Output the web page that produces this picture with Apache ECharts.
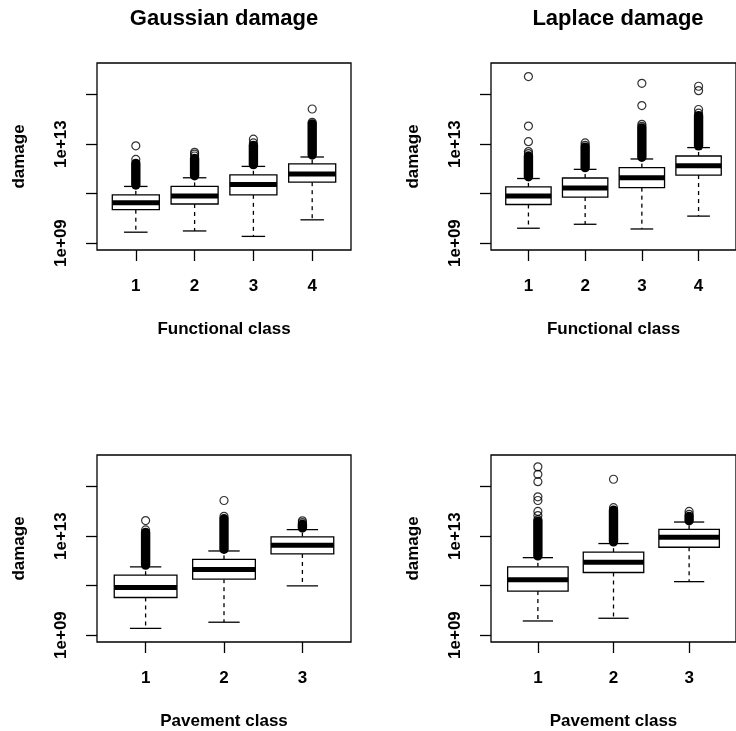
<!DOCTYPE html>
<html>
<head>
<meta charset="utf-8">
<script src="https://cdn.jsdelivr.net/npm/echarts@6.0.0/dist/echarts.min.js"></script>
<style>
html,body{margin:0;padding:0;background:#fff;}
#chart{width:736px;height:731px;}
</style>
</head>
<body>
<div id="chart"></div>
<script>
// ---- Data (log10 of damage) ----
const panelTitles = ['Gaussian damage', 'Laplace damage'];
const functionalClasses = [1, 2, 3, 4];
const pavementClasses = [1, 2, 3];
const yTickValues = [9, 11, 13, 15];
const yLabelValues = [9, 13];

// box stats: [lowerWhisker, Q1, median, Q3, upperWhisker]
const gaussFuncStats = [[9.44, 10.35, 10.63, 10.95, 11.29], [9.49, 10.58, 10.90, 11.29, 11.64], [9.27, 10.95, 11.37, 11.76, 12.10], [9.94, 11.46, 11.79, 12.20, 12.48]];
const laplFuncStats  = [[9.60, 10.56, 10.90, 11.27, 11.61], [9.76, 10.86, 11.23, 11.63, 11.98], [9.57, 11.24, 11.64, 12.05, 12.40], [10.09, 11.75, 12.13, 12.52, 12.86]];
const gaussPaveStats = [[9.27, 10.52, 10.92, 11.42, 11.76], [9.52, 11.26, 11.65, 12.06, 12.40], [10.99, 12.28, 12.63, 12.97, 13.26]];
const laplPaveStats  = [[9.57, 10.78, 11.24, 11.76, 12.13], [9.68, 11.53, 11.94, 12.35, 12.70], [11.16, 12.55, 12.95, 13.27, 13.57]];

// densely packed outliers: [lowest, highest] per class
const gaussFuncDense = [[11.35, 12.22], [11.72, 12.42], [12.17, 12.95], [12.56, 13.82]];
const laplFuncDense  = [[11.68, 12.52], [12.05, 12.88], [12.47, 13.65], [12.93, 14.15]];
const gaussPaveDense = [[11.83, 13.15], [12.47, 13.70], [13.33, 13.48]];
const laplPaveDense  = [[12.20, 13.60], [12.77, 14.05], [13.62, 13.80]];

// individual outliers per class
const gaussFuncOut = [[12.38, 12.93], [12.52, 12.60, 12.67], [13.05, 13.20], [13.88, 14.42]];
const laplFuncOut  = [[12.62, 12.70, 13.10, 13.73, 15.73], [12.95, 13.05], [13.72, 13.80, 14.56, 15.46], [14.25, 14.40, 15.16, 15.34]];
const gaussPaveOut = [[13.25, 13.63], [13.80, 14.44], [13.55, 13.62]];
const laplPaveOut  = [[13.67, 13.83, 14.00, 14.44, 14.59, 15.20, 15.50, 15.80], [14.15, 15.30], [13.88, 14.00]];

// ---- Chart ----
const FONT = '"Liberation Sans", Arial, Helvetica, sans-serif';
const AX = 17, TT = 22;

const panels = [
  {grid: {left: 97, top: 63}, classes: functionalClasses, stats: gaussFuncStats, dense: gaussFuncDense, out: gaussFuncOut, xName: 'Functional class'},
  {grid: {left: 491, top: 63}, classes: functionalClasses, stats: laplFuncStats, dense: laplFuncDense, out: laplFuncOut, xName: 'Functional class'},
  {grid: {left: 97, top: 455}, classes: pavementClasses, stats: gaussPaveStats, dense: gaussPaveDense, out: gaussPaveOut, xName: 'Pavement class'},
  {grid: {left: 491, top: 455}, classes: pavementClasses, stats: laplPaveStats, dense: laplPaveDense, out: laplPaveOut, xName: 'Pavement class'}
];

function renderBox(params, api) {
  const x = api.value(0);
  const lo = api.value(1), q1 = api.value(2), md = api.value(3), q3 = api.value(4), hi = api.value(5);
  const half = api.size([0.4, 0])[0];
  const staple = half / 2;
  const pm = api.coord([x, md]);
  const cx = pm[0];
  const yLo = api.coord([x, lo])[1], yQ1 = api.coord([x, q1])[1], yQ3 = api.coord([x, q3])[1], yHi = api.coord([x, hi])[1];
  const solid = {stroke: '#000', lineWidth: 1.3};
  const dashed = {stroke: '#000', lineWidth: 1.3, lineDash: [4, 4]};
  return {type: 'group', children: [
    {type: 'line', shape: {x1: cx, y1: yQ1, x2: cx, y2: yLo}, style: dashed},
    {type: 'line', shape: {x1: cx, y1: yQ3, x2: cx, y2: yHi}, style: dashed},
    {type: 'line', shape: {x1: cx - staple, y1: yLo, x2: cx + staple, y2: yLo}, style: solid},
    {type: 'line', shape: {x1: cx - staple, y1: yHi, x2: cx + staple, y2: yHi}, style: solid},
    {type: 'rect', shape: {x: cx - half, y: yQ3, width: 2 * half, height: yQ1 - yQ3}, style: {fill: '#fff', stroke: '#000', lineWidth: 1.3}},
    {type: 'line', shape: {x1: cx - half, y1: pm[1], x2: cx + half, y2: pm[1]}, style: {stroke: '#000', lineWidth: 5}}
  ]};
}

function renderDense(params, api) {
  const x = api.value(0);
  const pTop = api.coord([x, api.value(2)]);
  const pBot = api.coord([x, api.value(1)]);
  const r = 4.7;
  return {type: 'rect', shape: {x: pTop[0] - r, y: pTop[1] - r, width: 2 * r, height: pBot[1] - pTop[1] + 2 * r, r: r}, style: {fill: '#000'}};
}

const grids = [], xAxes = [], yAxes = [], series = [];
panels.forEach((p, i) => {
  const n = p.classes.length;
  const ext = 0.04 * n;
  grids.push({left: p.grid.left, top: p.grid.top, width: 254, height: 187, show: true, borderColor: '#000', borderWidth: 1.3, backgroundColor: 'transparent', containLabel: false});
  xAxes.push({
    gridIndex: i, type: 'value', min: 0.5 - ext, max: n + 0.5 + ext,
    axisLine: {show: false}, splitLine: {show: false},
    axisTick: {show: true, customValues: p.classes, length: 11, lineStyle: {color: '#000', width: 1.3}},
    axisLabel: {customValues: p.classes, color: '#000', fontWeight: 'bold', fontSize: AX, fontFamily: FONT, margin: 28},
    name: p.xName, nameLocation: 'middle', nameGap: 71,
    nameTextStyle: {color: '#000', fontWeight: 'bold', fontSize: AX, fontFamily: FONT}
  });
  yAxes.push({
    gridIndex: i, type: 'value', min: 8.72, max: 16.28,
    axisLine: {show: false}, splitLine: {show: false},
    axisTick: {show: true, customValues: yTickValues, length: 11, lineStyle: {color: '#000', width: 1.3}},
    axisLabel: {customValues: yLabelValues, rotate: 90, color: '#000', fontWeight: 'bold', fontSize: AX, fontFamily: FONT, margin: 27,
      formatter: v => '1e+' + String(Math.round(v)).padStart(2, '0')},
    name: 'damage', nameLocation: 'middle', nameGap: 69, nameRotate: 90,
    nameTextStyle: {color: '#000', fontWeight: 'bold', fontSize: AX, fontFamily: FONT}
  });
  series.push({
    type: 'custom', xAxisIndex: i, yAxisIndex: i, renderItem: renderBox, silent: true, z: 2,
    data: p.stats.map((s, k) => [p.classes[k]].concat(s))
  });
  series.push({
    type: 'custom', xAxisIndex: i, yAxisIndex: i, renderItem: renderDense, silent: true, z: 3,
    data: p.dense.map((d, k) => [p.classes[k], d[0], d[1]])
  });
  const pts = [];
  p.out.forEach((arr, k) => arr.forEach(v => pts.push([p.classes[k], v])));
  series.push({
    type: 'scatter', xAxisIndex: i, yAxisIndex: i, silent: true, z: 4,
    symbol: 'circle', symbolSize: 8,
    itemStyle: {color: 'rgba(0,0,0,0)', borderColor: '#000', borderWidth: 1.2},
    data: pts
  });
});

const chart = echarts.init(document.getElementById('chart'), null, {renderer: 'canvas'});
chart.setOption({
  animation: false,
  backgroundColor: '#fff',
  title: [
    {text: panelTitles[0], left: 224, top: 8, padding: 0, textAlign: 'center', textStyle: {color: '#000', fontWeight: 'bold', fontSize: TT, fontFamily: FONT}},
    {text: panelTitles[1], left: 618, top: 8, padding: 0, textAlign: 'center', textStyle: {color: '#000', fontWeight: 'bold', fontSize: TT, fontFamily: FONT}}
  ],
  grid: grids, xAxis: xAxes, yAxis: yAxes, series: series
});
</script>
</body>
</html>
